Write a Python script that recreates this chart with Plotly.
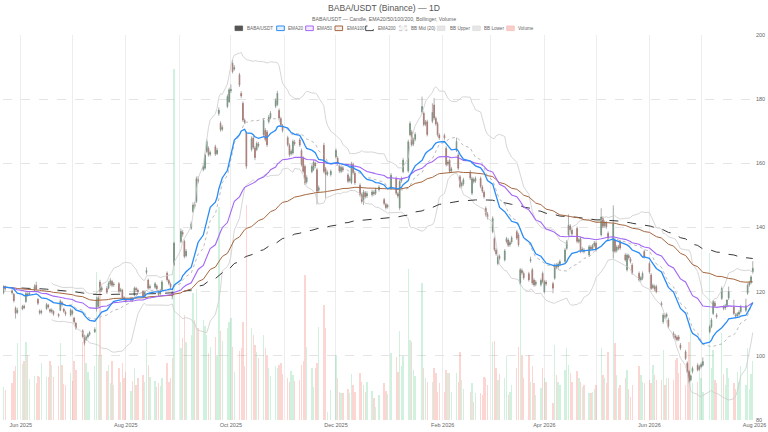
import pandas as pd
import plotly.graph_objects as go

# ---------------- data ----------------
# trading days: weekdays minus the exchange holidays seen as gaps
holidays = ["2025-05-26", "2025-07-04", "2025-09-01", "2025-11-27", "2025-12-25",
            "2026-01-01", "2026-01-19", "2026-02-16", "2026-04-03", "2026-05-25",
            "2026-07-03"]
dates = pd.bdate_range("2025-05-22", "2026-07-31", freq="C", holidays=holidays)

# one line per week: open, high, low, close
ohlc = [
    (119.6, 122.0, 119.2, 121.4), (121.4, 121.9, 120.3, 120.9),
    (120.3, 120.8, 119.1, 119.6), (119.2, 119.6, 116.6, 117.2), (114.9, 115.4, 111.6, 113.3), (113.5, 115.0, 113.0, 114.2),
    (114.6, 115.9, 114.2, 115.4), (115.5, 116.0, 114.5, 115.0), (116.9, 120.1, 116.5, 119.4), (119.3, 119.8, 118.4, 119.0), (119.1, 120.2, 118.8, 119.6),
    (120.4, 122.3, 120.0, 121.6), (122.0, 123.1, 120.4, 120.8), (117.6, 118.0, 115.8, 116.4), (114.0, 114.5, 112.8, 113.4), (113.5, 114.4, 112.9, 113.9),
    (114.7, 116.5, 114.3, 116.0), (115.8, 116.2, 114.7, 115.2), (114.4, 114.8, 113.3, 113.9), (113.8, 114.8, 113.2, 114.3), (113.9, 114.2, 112.5, 113.0),
    (112.9, 113.3, 111.9, 112.5), (114.2, 117.6, 113.9, 117.1), (116.6, 117.0, 115.4, 116.0), (114.6, 115.0, 113.4, 113.9), (113.6, 114.1, 112.4, 113.0),
    (112.7, 114.8, 112.2, 114.3), (114.0, 114.4, 112.6, 113.2), (111.8, 112.2, 110.0, 110.6), (110.2, 110.6, 108.1, 108.7),
    (107.8, 108.3, 105.5, 106.0), (106.2, 106.6, 103.2, 103.9), (105.0, 106.4, 104.6, 105.8), (105.9, 107.2, 105.4, 106.6), (106.7, 107.8, 106.2, 107.2),
    (107.5, 108.9, 107.1, 108.2), (114.7, 118.4, 113.8, 117.5), (115.4, 118.8, 115.0, 118.1), (123.0, 123.7, 119.8, 120.4), (120.5, 121.9, 119.9, 121.2),
    (121.0, 121.7, 119.3, 119.8), (121.1, 123.2, 120.7, 122.6), (122.4, 124.2, 121.8, 123.4), (123.2, 123.7, 121.4, 122.0), (122.1, 123.0, 121.5, 122.4),
    (122.5, 123.0, 119.6, 120.1), (120.2, 121.2, 119.8, 120.6), (120.5, 120.9, 117.6, 118.2), (118.1, 118.6, 117.0, 117.6), (117.6, 118.0, 116.6, 117.2),
    (117.3, 118.4, 116.9, 117.9), (117.9, 118.3, 116.8, 117.4), (118.9, 121.6, 118.5, 121.1), (121.0, 121.5, 119.9, 120.5), (120.5, 121.0, 119.4, 119.9),
    (120.1, 120.5, 118.0, 118.5), (118.7, 120.4, 118.3, 119.8), (126.0, 127.6, 125.3, 126.6), (123.6, 124.1, 120.6, 121.1), (121.2, 122.3, 120.7, 121.6),
    (121.4, 123.0, 120.9, 122.5), (121.8, 122.3, 120.4, 120.9), (120.0, 120.4, 118.4, 119.1), (119.3, 120.9, 118.9, 120.3), (120.6, 123.6, 120.2, 123.0),
    (125.8, 126.3, 123.1, 123.7), (123.5, 124.0, 122.0, 122.6), (122.4, 122.9, 120.8, 121.4), (119.8, 120.2, 117.6, 118.6), (128.4, 135.6, 127.9, 135.1),
    (135.6, 139.7, 135.1, 138.8), (138.5, 139.2, 137.1, 137.9), (135.7, 136.2, 130.4, 131.0), (131.2, 133.3, 130.7, 132.6),
    (139.8, 141.9, 139.3, 141.2), (145.0, 147.8, 144.5, 147.0), (147.2, 148.0, 145.9, 146.6), (148.1, 155.9, 147.6, 155.2), (155.0, 156.0, 153.7, 154.4),
    (158.1, 159.6, 157.5, 158.9), (158.5, 163.3, 158.0, 162.6), (163.7, 167.5, 163.2, 166.8), (164.7, 165.3, 162.1, 162.7), (162.8, 164.0, 162.2, 163.4),
    (165.2, 165.8, 162.3, 162.9), (163.0, 164.8, 162.6, 164.1), (175.5, 177.4, 174.8, 176.6), (172.5, 173.1, 169.9, 170.5), (170.6, 171.9, 170.0, 171.2),
    (177.7, 181.5, 177.2, 180.8), (179.2, 183.6, 178.8, 182.9), (182.6, 184.6, 181.9, 183.0), (191.2, 192.3, 188.0, 188.6), (189.4, 190.6, 188.9, 189.8),
    (187.6, 188.2, 183.8, 184.4), (181.8, 182.5, 180.3, 181.0), (178.7, 179.3, 172.9, 173.5), (173.4, 174.0, 172.2, 172.8), (169.4, 170.0, 158.3, 159.1),
    (164.3, 168.4, 163.7, 167.7), (167.9, 168.6, 164.4, 165.0), (164.8, 165.4, 161.0, 161.8), (164.3, 166.8, 163.8, 166.2), (166.0, 166.7, 164.9, 165.5),
    (168.9, 174.1, 168.3, 173.4), (170.3, 171.0, 166.8, 167.4), (169.8, 170.4, 165.1, 165.8), (173.0, 175.1, 172.4, 174.4), (174.2, 176.3, 173.7, 175.6),
    (177.8, 180.3, 177.2, 179.6), (178.3, 182.6, 177.8, 181.8), (176.5, 177.1, 173.5, 174.1), (173.9, 174.5, 171.3, 172.0), (171.8, 172.3, 169.6, 170.2),
    (168.0, 168.6, 165.2, 165.8), (165.6, 166.2, 162.0, 162.7), (163.0, 164.4, 162.4, 163.8), (163.2, 167.4, 162.7, 166.8), (166.6, 167.3, 165.5, 166.1),
    (167.3, 167.9, 165.1, 165.7), (164.0, 164.6, 159.0, 159.6), (161.6, 162.2, 156.9, 157.5), (159.0, 159.6, 153.2, 153.9), (154.2, 156.3, 153.6, 155.6),
    (157.4, 159.7, 156.9, 159.0), (158.1, 161.1, 157.6, 160.4), (160.0, 160.6, 158.5, 159.2), (158.0, 158.6, 147.2, 151.3), (151.6, 153.1, 151.0, 152.4),
    (165.6, 166.4, 156.9, 157.5), (158.3, 158.9, 149.1, 156.5), (156.6, 157.8, 156.0, 157.2), (156.5, 158.1, 155.9, 157.5),
    (162.0, 164.7, 161.5, 164.0), (161.6, 162.2, 159.5, 160.1), (159.1, 159.7, 157.0, 157.6), (157.5, 159.4, 156.9, 158.8), (158.6, 159.2, 157.3, 157.9),
    (156.4, 157.0, 153.8, 154.4), (154.6, 155.9, 154.0, 155.2), (154.0, 160.5, 153.5, 159.8), (159.6, 160.2, 156.5, 157.1), (156.9, 157.5, 153.3, 153.9),
    (153.2, 153.8, 149.6, 150.2), (150.3, 150.9, 147.5, 148.1), (148.3, 151.7, 147.0, 151.1), (150.8, 151.4, 149.0, 149.6), (149.8, 151.3, 149.2, 150.6),
    (150.2, 151.8, 149.6, 151.1), (151.0, 151.6, 149.9, 150.5), (150.6, 152.4, 150.1, 151.8), (151.8, 153.2, 151.2, 152.6),
    (148.7, 149.2, 146.9, 147.5), (147.2, 147.7, 145.6, 146.2), (146.4, 147.4, 145.9, 146.9), (152.2, 157.0, 151.7, 156.3),
    (155.3, 155.9, 150.1, 150.7), (150.5, 151.1, 149.1, 149.8), (146.1, 154.9, 145.4, 154.3), (154.5, 155.9, 153.9, 155.2), (157.4, 161.7, 156.9, 161.0),
    (157.6, 167.4, 157.1, 166.7), (168.9, 173.1, 168.4, 172.4), (169.8, 170.4, 165.2, 165.8), (166.0, 168.0, 165.4, 167.3), (167.5, 169.7, 166.9, 169.0),
    (176.0, 180.8, 175.4, 177.7), (175.6, 176.2, 171.5, 172.1), (172.2, 173.5, 171.6, 172.9), (173.0, 173.6, 168.4, 169.0),
    (173.1, 178.7, 172.5, 175.9), (178.2, 180.3, 173.5, 174.1), (174.0, 174.6, 171.7, 172.3), (172.4, 173.0, 168.3, 168.9), (168.8, 169.4, 167.3, 167.9),
    (168.7, 169.3, 167.3, 167.9), (164.7, 165.3, 159.0, 159.6), (159.8, 161.0, 159.2, 160.4), (160.9, 161.5, 156.9, 157.5), (157.6, 158.9, 157.0, 158.3),
    (164.0, 168.0, 163.5, 166.8), (162.6, 163.2, 157.9, 158.5), (155.8, 156.4, 152.2, 152.8), (153.0, 154.4, 152.4, 153.8), (153.6, 155.5, 153.0, 154.9),
    (157.3, 157.9, 154.8, 155.4), (150.7, 155.8, 150.1, 155.2), (155.0, 155.6, 153.7, 154.3), (154.5, 155.9, 153.9, 155.3),
    (155.3, 155.9, 152.2, 152.8), (152.6, 153.2, 150.7, 151.3), (151.0, 151.6, 149.0, 149.6), (146.0, 146.6, 143.4, 144.0), (144.2, 144.8, 142.5, 143.1),
    (138.7, 143.5, 138.2, 142.8), (136.6, 137.2, 132.5, 133.1), (133.0, 133.6, 131.2, 131.8), (128.8, 131.5, 128.2, 130.9), (131.0, 131.6, 129.8, 130.4),
    (129.9, 133.3, 129.4, 132.7), (135.6, 137.1, 135.0, 136.5), (136.1, 136.7, 133.9, 134.5), (134.6, 135.9, 134.0, 135.3), (135.5, 137.4, 134.9, 136.8),
    (138.7, 139.3, 136.1, 136.7), (137.7, 138.3, 134.0, 134.6), (122.6, 127.4, 122.0, 126.8), (126.6, 127.2, 125.3, 125.9), (125.7, 126.3, 123.7, 124.3),
    (125.6, 126.2, 123.1, 123.7), (129.6, 130.9, 129.0, 130.0), (126.8, 127.4, 122.1, 122.7), (123.6, 124.2, 121.5, 122.1), (122.3, 123.6, 121.7, 123.0),
    (122.2, 124.1, 121.6, 123.5), (125.7, 126.3, 122.6, 123.2), (120.0, 123.7, 119.4, 123.1), (123.0, 123.6, 121.8, 122.4),
    (122.5, 123.1, 119.5, 121.1), (124.2, 128.8, 123.7, 128.2), (128.3, 128.9, 127.0, 127.6), (127.7, 129.2, 127.1, 128.6), (128.5, 130.0, 127.9, 129.4),
    (129.4, 133.6, 128.9, 133.0), (133.5, 136.1, 133.0, 135.5), (137.7, 144.1, 137.2, 140.7), (140.5, 141.1, 138.7, 139.3), (139.2, 139.8, 137.4, 138.0),
    (139.7, 140.3, 135.1, 135.7), (135.6, 136.8, 135.0, 136.2), (136.6, 137.2, 132.0, 132.6), (132.8, 133.9, 132.2, 133.3), (133.0, 133.6, 131.9, 132.5),
    (131.4, 134.6, 130.9, 134.0), (133.9, 134.5, 132.6, 133.3), (133.4, 134.9, 132.8, 134.3), (134.4, 135.8, 133.8, 135.2), (135.1, 135.7, 132.5, 133.1),
    (137.7, 146.0, 137.2, 143.3), (142.9, 143.5, 139.8, 140.4), (140.6, 142.2, 140.0, 141.6), (141.4, 142.0, 139.6, 140.2), (138.2, 138.8, 136.1, 136.7),
    (132.6, 146.9, 130.4, 141.2), (136.1, 136.7, 132.0, 132.6), (132.8, 134.5, 132.2, 133.9), (134.0, 134.6, 132.9, 133.4), (135.6, 136.2, 133.0, 133.6),
    (131.4, 132.0, 129.4, 129.9), (126.8, 131.9, 126.3, 131.4), (131.2, 131.8, 130.0, 130.6), (130.2, 130.8, 128.8, 129.4), (128.3, 128.9, 125.2, 125.8),
    (125.7, 126.3, 123.1, 123.6), (123.7, 124.9, 123.1, 124.3), (124.2, 126.3, 123.6, 125.7), (132.5, 133.1, 130.3, 130.9),
    (128.8, 129.4, 125.6, 126.2), (125.2, 125.8, 120.5, 121.0), (121.3, 122.5, 120.7, 121.9), (121.6, 122.2, 120.2, 120.8), (121.6, 122.2, 119.5, 120.0),
    (116.4, 117.0, 115.2, 115.8), (110.6, 113.3, 110.0, 112.7), (112.6, 113.2, 111.5, 112.1), (112.3, 113.5, 111.7, 112.9), (111.2, 111.8, 108.6, 109.1),
    (107.0, 107.6, 105.4, 106.0), (106.2, 106.8, 105.0, 105.6), (105.8, 106.4, 104.5, 105.0), (105.9, 106.5, 104.6, 105.2), (103.4, 104.0, 101.8, 102.4),
    (101.3, 101.9, 98.7, 99.2), (97.7, 98.3, 94.6, 95.1), (95.1, 95.7, 91.4, 92.1), (92.5, 94.2, 92.0, 93.8), (95.1, 96.7, 94.5, 96.1),
    (97.1, 97.7, 95.1, 95.6), (95.8, 97.2, 95.3, 96.6), (96.6, 97.9, 96.1, 97.3), (97.1, 99.5, 96.6, 98.2),
    (107.5, 109.7, 107.0, 109.1), (109.1, 111.8, 108.6, 111.2), (113.2, 117.4, 112.7, 116.9), (116.5, 117.1, 114.9, 115.5), (112.7, 113.3, 111.6, 112.2),
    (117.9, 121.6, 117.4, 121.0), (115.2, 115.8, 114.2, 114.8), (114.9, 116.2, 114.3, 115.6), (115.7, 117.6, 115.1, 117.4), (118.0, 121.6, 117.4, 120.0),
    (115.3, 117.5, 112.7, 113.2), (112.7, 113.3, 111.7, 112.4), (112.5, 113.6, 111.9, 113.1), (113.0, 114.2, 112.4, 113.6), (113.8, 115.9, 113.2, 115.3),
    (114.2, 117.8, 113.6, 115.6), (119.5, 122.6, 119.0, 122.0), (122.1, 123.4, 121.5, 122.8), (122.9, 125.1, 122.3, 124.6), (126.2, 129.5, 125.6, 127.3),
]

volume = [
    8.7, 7.8,
    9.5, 12.7, 13.9, 20.0,
    14.5, 15.4, 20.3, 16.9, 10.6,
    11.4, 9.7, 11.4, 11.2, 14.7,
    11.2, 11.3, 15.4, 14.3, 11.2,
    13.9, 20.0, 14.3, 9.3, 9.0,
    12.3, 10.1, 15.4, 13.0,
    20.2, 20.8, 14.9, 12.5, 10.5,
    14.0, 38.5, 16.5, 34.2, 17.0,
    12.8, 14.3, 9.5, 15.2, 9.0,
    13.5, 9.8, 14.8, 11.0, 12.4,
    7.5, 10.2, 13.4, 9.2, 10.8,
    11.6, 9.9, 21.0, 14.2, 11.3,
    10.2, 8.7, 9.5, 8.8, 11.0,
    14.7, 10.0, 11.0, 16.0, 91.3,
    18.6, 21.2, 27.3, 20.3,
    22.0, 33.0, 26.0, 34.0, 23.8,
    26.0, 24.5, 22.0, 17.5, 19.0,
    21.5, 17.0, 55.4, 23.0, 20.5,
    23.8, 25.5, 26.4, 19.0, 12.5,
    18.0, 18.6, 25.5, 14.0, 55.8,
    23.8, 22.0, 19.5, 17.7, 16.0,
    22.0, 18.6, 16.9, 13.4, 11.5,
    13.9, 13.4, 14.3, 14.7, 12.0,
    10.8, 10.0, 12.6, 11.7, 10.2,
    10.4, 14.3, 15.2, 37.7, 19.0,
    13.4, 8.7, 13.4, 14.7, 24.2,
    30.0, 23.8, 2.0, 7.8,
    16.9, 10.9, 7.4, 6.9, 6.9,
    8.0, 6.9, 12.0, 9.1, 7.4,
    12.3, 9.9, 9.1, 7.4, 9.9,
    7.5, 5.8, 3.5, 6.5,
    9.7, 7.5, 6.7, 17.5,
    16.4, 12.5, 23.0, 14.0, 16.5,
    39.1, 20.8, 20.3, 13.0, 11.5,
    35.5, 13.5, 11.0, 10.0,
    10.0, 13.4, 12.1, 7.4, 9.5,
    7.4, 13.0, 12.1, 12.1, 7.4,
    12.1, 10.0, 17.7, 10.5, 8.0,
    7.4, 9.5, 4.8, 6.9,
    6.9, 6.5, 11.3, 10.8, 9.0,
    20.3, 20.5, 13.4, 10.5, 12.0,
    10.8, 16.7, 6.5, 7.4, 9.0,
    13.4, 19.0, 36.0, 16.9, 11.0,
    16.9, 10.0, 13.9, 9.5, 6.5,
    8.2, 13.4, 10.8, 10.0,
    4.3, 19.5, 11.7, 10.0, 9.0,
    13.0, 18.8, 14.3, 12.1, 10.0,
    12.6, 10.8, 10.0, 8.5, 9.0,
    6.9, 6.9, 7.4, 8.0, 9.1,
    18.6, 11.7, 10.8, 9.5, 17.7,
    55.0, 19.9, 11.7, 8.2, 9.0,
    10.8, 13.0, 8.0, 6.1, 9.1,
    13.9, 11.7, 10.0, 9.5,
    10.4, 9.5, 14.3, 11.7, 10.4,
    10.4, 18.2, 9.1, 10.8, 10.8,
    10.4, 15.6, 16.0, 12.1, 14.7,
    9.1, 14.7, 20.3, 23.4, 9.5,
    10.0, 12.6, 10.8, 7.4,
    43.3, 13.4, 18.2, 10.4, 9.5,
    22.5, 12.0, 9.0, 13.5, 11.0,
    9.5, 8.0, 12.5, 10.0, 14.0,
    9.0, 18.6, 8.0, 12.0, 15.2,
]

y_ticks = [80, 100, 120, 140, 160, 180, 200]

df = pd.DataFrame(ohlc, columns=["open", "high", "low", "close"], index=dates)
df["volume"] = volume

# indicators
for n in (20, 50, 100, 200):
    df[f"ema{n}"] = df["close"].ewm(span=n, adjust=False).mean()
df["bb_mid"] = df["close"].rolling(20).mean()
bb_std = df["close"].rolling(20).std(ddof=0)
df["bb_up"] = df["bb_mid"] + 2 * bb_std
df["bb_lo"] = df["bb_mid"] - 2 * bb_std

# body top / bottom, so the wicks can be drawn grey underneath
body_hi = df[["open", "close"]].max(axis=1)
body_lo = df[["open", "close"]].min(axis=1)

up = df["close"] >= df["open"]
vol_colors = ["rgba(46,190,110,0.22)" if u else "rgba(240,90,80,0.25)" for u in up]

# ---------------- figure ----------------
W, H = 768, 432
L, R, T, B = 3, 13, 35, 12
FONT = "Liberation Sans, Arial, sans-serif"
GREY = "#666666"
UP_C, DN_C = "#3e7b52", "#a4463a"


def px(x):
    return (x - L) / (W - L - R)


def py(y):
    return (H - B - y) / (H - T - B)


fig = go.Figure()

fig.add_trace(go.Bar(x=df.index, y=df["volume"], marker=dict(color=vol_colors, line=dict(width=0)),
                     width=0.8 * 86400000, yaxis="y", name="Volume", showlegend=False))

line_kw = dict(mode="lines", yaxis="y2", showlegend=False, hoverinfo="skip")
fig.add_trace(go.Scatter(x=df.index, y=df["bb_up"], line=dict(color="#cccccc", width=0.8), name="BB Upper", **line_kw))
fig.add_trace(go.Scatter(x=df.index, y=df["bb_lo"], line=dict(color="#cccccc", width=0.8), name="BB Lower", **line_kw))
fig.add_trace(go.Scatter(x=df.index, y=df["bb_mid"], line=dict(color="#aaaaaa", width=0.8, dash="dot"), name="BB Mid (20)", **line_kw))

# grey wicks
fig.add_trace(go.Ohlc(x=df.index, open=df["open"], high=df["high"], low=df["low"], close=df["close"],
                      yaxis="y2", showlegend=False, tickwidth=0, hoverinfo="skip",
                      increasing=dict(line=dict(color="#9a9a9a", width=0.8)),
                      decreasing=dict(line=dict(color="#9a9a9a", width=0.8))))
# coloured bodies
fig.add_trace(go.Candlestick(
    x=df.index, open=df["open"], high=body_hi, low=body_lo, close=df["close"],
    yaxis="y2", name="BABA/USDT", showlegend=False,
    increasing=dict(line=dict(color=UP_C, width=0.5), fillcolor=UP_C),
    decreasing=dict(line=dict(color=DN_C, width=0.5), fillcolor=DN_C),
    whiskerwidth=0))

fig.add_trace(go.Scatter(x=df.index, y=df["ema200"], line=dict(color="#222222", width=0.9, dash="dash"), name="EMA200", **line_kw))
fig.add_trace(go.Scatter(x=df.index, y=df["ema100"], line=dict(color="#a5673f", width=1.0), name="EMA100", **line_kw))
fig.add_trace(go.Scatter(x=df.index, y=df["ema50"], line=dict(color="#a366f5", width=1.1), name="EMA50", **line_kw))
fig.add_trace(go.Scatter(x=df.index, y=df["ema20"], line=dict(color="#2a8cf7", width=1.3), name="EMA20", **line_kw))

# custom legend (boxes like the reference)
legend_items = [
    ("BABA/USDT", 235.0, 245.0, dict(fillcolor="#555555", line=dict(color="#555555", width=0.8))),
    ("EMA20", 276.7, 286.0, dict(fillcolor="rgba(42,140,247,0.12)", line=dict(color="#2a8cf7", width=1))),
    ("EMA50", 305.7, 315.0, dict(fillcolor="rgba(163,102,245,0.12)", line=dict(color="#a366f5", width=1))),
    ("EMA100", 335.0, 345.0, dict(fillcolor="rgba(165,103,63,0.12)", line=dict(color="#a5673f", width=1))),
    ("EMA200", 365.7, 375.7, dict(fillcolor="rgba(0,0,0,0)", line=dict(color="#333333", width=0.9, dash="dash"))),
    ("BB Mid (20)", 399.3, 409.0, dict(fillcolor="rgba(200,200,200,0.2)", line=dict(color="#bbbbbb", width=0.8, dash="dot"))),
    ("BB Upper", 437.3, 448.3, dict(fillcolor="#e6e6e6", line=dict(color="#dddddd", width=0.8))),
    ("BB Lower", 472.7, 482.3, dict(fillcolor="#e6e6e6", line=dict(color="#dddddd", width=0.8))),
    ("Volume", 506.7, 516.0, dict(fillcolor="#f8cdca", line=dict(color="#f5c0bc", width=0.8))),
]
shapes = []
annotations = []
for label, sx, tx, style in legend_items:
    shapes.append(dict(type="rect", xref="paper", yref="paper", x0=px(sx), x1=px(sx + 7.6),
                       y0=py(30.6), y1=py(26.0), layer="above", **style))
    annotations.append(dict(text=label, x=px(tx), y=py(28.4), xref="paper", yref="paper",
                            xanchor="left", yanchor="middle", showarrow=False,
                            font=dict(size=4.6, color=GREY, family=FONT)))

annotations.append(dict(text="BABA/USDT (Binance) — 1D", x=px(384), y=py(7.8), xref="paper", yref="paper",
                        xanchor="center", yanchor="middle", showarrow=False,
                        font=dict(size=8.6, color="#555555", family=FONT)))
annotations.append(dict(text="BABA/USDT — Candle, EMA20/50/100/200, Bollinger, Volume", x=px(384), y=py(19.4),
                        xref="paper", yref="paper", xanchor="center", yanchor="middle", showarrow=False,
                        font=dict(size=5.2, color=GREY, family=FONT)))

fig.update_layout(
    width=W, height=H,
    margin=dict(l=L, r=R, t=T, b=B),
    paper_bgcolor="white", plot_bgcolor="white",
    font=dict(family=FONT, color=GREY, size=6),
    showlegend=False,
    bargap=0,
    shapes=shapes, annotations=annotations,
    xaxis=dict(type="date", range=["2025-05-21 17:00", "2026-08-01 07:00"],
               tick0="2025-06-01", dtick="M2", tickformat="%b %Y",
               tickfont=dict(size=5.5, color=GREY), ticks="", ticklen=0,
               showgrid=True, gridcolor="#ededed", gridwidth=0.8,
               minor=dict(dtick="M1", tick0="2025-06-01", showgrid=True, gridcolor="#ededed", gridwidth=0.8),
               zeroline=False, showline=False, rangeslider=dict(visible=False)),
    yaxis=dict(range=[0, 100], visible=False, showgrid=False, fixedrange=True),
    yaxis2=dict(overlaying="y", side="right", range=[80, 200], tickvals=y_ticks,
                tickfont=dict(size=5.5, color=GREY), ticks="", showgrid=True,
                gridcolor="#e4e4e4", gridwidth=0.8, griddash="dash",
                zeroline=False, showline=False),
)

# the page body has a default 8px margin; drop it so the figure fills the window
fig.write_html("out.html", config={"displayModeBar": False},
               post_script="document.body.style.margin='0px';")
